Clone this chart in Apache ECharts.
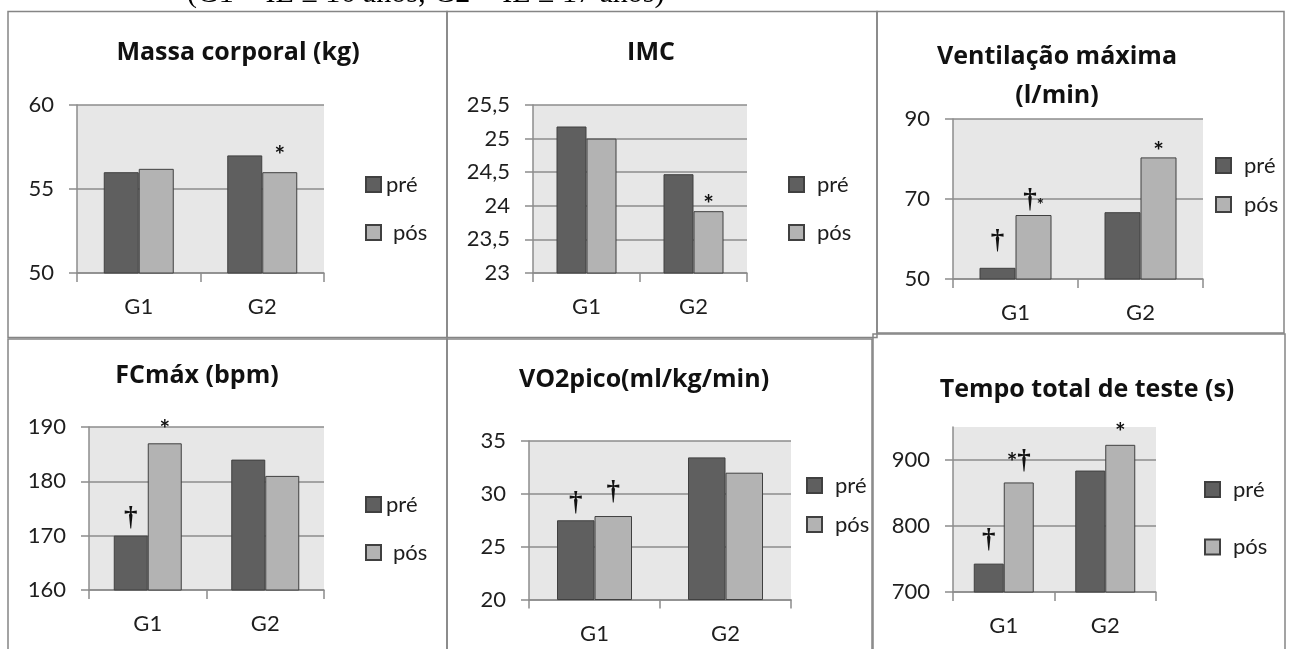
<!DOCTYPE html>
<html><head><meta charset="utf-8">
<script src="https://cdn.jsdelivr.net/npm/echarts@6/dist/echarts.min.js"></script>
<style>html,body{margin:0;padding:0;background:#fff}#c{width:1290px;height:649px}</style>
</head><body><div id="c"></div><script>
// ---------- data ----------
const categories = ['G1', 'G2'];
const seriesNames = ['pré', 'pós'];
const headerText = '(G1 = IE ≤ 16 anos; G2 = IE ≥ 17 anos)';

const massaTitle = ['Massa corporal (kg)'];
const massaPre = [56.0, 57.0];
const massaPos = [56.2, 56.0];
const massaAnnPre = ['', ''];
const massaAnnPos = ['', '*'];
const massaTicks = [50, 55, 60];

const imcTitle = ['IMC'];
const imcPre = [25.18, 24.47];
const imcPos = [25.0, 23.92];
const imcAnnPre = ['', ''];
const imcAnnPos = ['', '*'];
const imcTicks = [23, 23.5, 24, 24.5, 25, 25.5];

const ventTitle = ['Ventilação máxima', '(l/min)'];
const ventPre = [52.8, 66.7];
const ventPos = [66.0, 80.4];
const ventAnnPre = ['†', ''];
const ventAnnPos = ['†*', '*'];
const ventTicks = [50, 70, 90];

const fcTitle = ['FCmáx (bpm)'];
const fcPre = [170, 184];
const fcPos = [187, 181];
const fcAnnPre = ['†', ''];
const fcAnnPos = ['*', ''];
const fcTicks = [160, 170, 180, 190];

const vo2Title = ['VO2pico(ml/kg/min)'];
const vo2Pre = [27.5, 33.45];
const vo2Pos = [27.9, 32.0];
const vo2AnnPre = ['†', ''];
const vo2AnnPos = ['†', ''];
const vo2Ticks = [20, 25, 30, 35];

const tempoTitle = ['Tempo total de teste (s)'];
const tempoPre = [743, 884];
const tempoPos = [866, 923];
const tempoAnnPre = ['†', ''];
const tempoAnnPos = ['*†', '*'];
const tempoTicks = [700, 800, 900];
const tempoMax = 950;

// ---------- layout (positions / styles) ----------
// annD: label distance above each bar [[pré G1, pré G2], [pós G1, pós G2]]
const panels = [
  { title: massaTitle, pre: massaPre, pos: massaPos, annPre: massaAnnPre, annPos: massaAnnPos, ticks: massaTicks,
    grid: { left: 77, top: 105, width: 247, height: 168 }, barW: 35, titleXY: [238, 53], lineH: 39,
    leg: [[365, 184.5, 0], [365, 232.5, 7]], box: [8, 11.5, 439, 326], annD: [[0, 0], [0, 4]] },
  { title: imcTitle, pre: imcPre, pos: imcPos, annPre: imcAnnPre, annPos: imcAnnPos, ticks: imcTicks,
    grid: { left: 533, top: 105, width: 214, height: 168 }, barW: 30, titleXY: [651, 53], lineH: 39,
    leg: [[788, 184.5, 8], [788, 232.5, 8]], box: [447, 11.5, 430, 326], annD: [[0, 0], [0, -6]], comma: true },
  { title: ventTitle, pre: ventPre, pos: ventPos, annPre: ventAnnPre, annPos: ventAnnPos, ticks: ventTicks,
    grid: { left: 953, top: 119, width: 250, height: 160 }, barW: 36, titleXY: [1057, 57], lineH: 39,
    leg: [[1215, 165.5, 8], [1215, 204.5, 8]], box: [877, 11.5, 407, 321.5], annD: [[13, 0], [1, -7]] },
  { title: fcTitle, pre: fcPre, pos: fcPos, annPre: fcAnnPre, annPos: fcAnnPos, ticks: fcTicks,
    grid: { left: 89, top: 427, width: 235, height: 163 }, barW: 34, titleXY: [197, 376], lineH: 39,
    leg: [[365, 504.5, 0], [365, 552.5, 7]], box: [8, 339, 439, 320], annD: [[4, 0], [1, 0]] },
  { title: vo2Title, pre: vo2Pre, pos: vo2Pos, annPre: vo2AnnPre, annPos: vo2AnnPos, ticks: vo2Ticks,
    grid: { left: 529, top: 441, width: 262, height: 158.5 }, barW: 37.5, titleXY: [644, 380], lineH: 39,
    leg: [[806, 485.5, 8], [806, 524.5, 8]], box: [447, 339, 425, 320], annD: [[3, 0], [10, 0]] },
  { title: tempoTitle, pre: tempoPre, pos: tempoPos, annPre: tempoAnnPre, annPos: tempoAnnPos, ticks: tempoTicks, max: tempoMax,
    grid: { left: 953, top: 427, width: 203, height: 165 }, barW: 30, titleXY: [1087, 390], lineH: 39,
    leg: [[1204, 489.5, 8], [1204, 547, 8]], box: [873, 334, 412, 320], annD: [[10, 0], [7, -1]] }
];

const FONT = 'Lato';
const TITLE_FONT = 'Open Sans';
const AXIS_COLOR = '#8c8c8c';
const TEXT_COLOR = '#1e1e1e';
const PRE_COLOR = '#5f5f5f';
const POS_COLOR = '#b3b3b3';
const BORDER_COLOR = '#404040';

function annText(s) {
  return (s || '').split('').map((ch, j, all) => {
    if (ch === '†') return '{d|†}';
    return (j > 0 && all[j - 1] === '†') ? '{ss|*}' : '{s|*}';
  }).join('');
}
const annRich = {
  d: { fontFamily: 'Liberation Serif', fontSize: 27, fontWeight: 'bold', color: '#111', lineHeight: 28 },
  s: { fontFamily: FONT, fontSize: 25, fontWeight: 'bold', color: '#111', lineHeight: 12, verticalAlign: 'bottom' },
  ss: { fontFamily: FONT, fontSize: 17, fontWeight: 'bold', color: '#111', lineHeight: 20, verticalAlign: 'bottom' }
};

const grids = [], xAxes = [], yAxes = [], series = [], legends = [], graphics = [];

graphics.push({ type: 'text', x: 187, y: 9.5, silent: true,
  style: { text: headerText, fill: '#000', fontFamily: 'Liberation Serif', fontSize: 30, align: 'left', verticalAlign: 'bottom' } });

panels.forEach((pn, i) => {
  graphics.push({ type: 'rect', shape: { x: pn.box[0], y: pn.box[1], width: pn.box[2], height: pn.box[3] }, silent: true,
    style: { fill: null, stroke: '#858585', lineWidth: 1.5 } });
  pn.title.forEach((t, k) => {
    graphics.push({ type: 'text', x: pn.titleXY[0], y: pn.titleXY[1] + k * pn.lineH, silent: true,
      style: { text: t, fill: '#111', fontFamily: TITLE_FONT, fontSize: 25, fontWeight: 'bold', align: 'center', verticalAlign: 'middle' } });
  });
  grids.push(Object.assign({ show: true, backgroundColor: '#e7e7e7', borderWidth: 0 }, pn.grid));
  xAxes.push({ gridIndex: i, type: 'category', data: categories,
    axisLine: { show: true, lineStyle: { color: AXIS_COLOR, width: 1.5 } },
    axisTick: { show: true, length: 9, lineStyle: { color: AXIS_COLOR, width: 1.5 } },
    axisLabel: { margin: 23, fontSize: 22, fontFamily: FONT, color: TEXT_COLOR },
    splitLine: { show: false } });
  const t = pn.ticks;
  const yMax = pn.max != null ? pn.max : t[t.length - 1];
  yAxes.push({ gridIndex: i, type: 'value', min: t[0], max: yMax, interval: t[1] - t[0],
    axisLine: { show: true, lineStyle: { color: AXIS_COLOR, width: 1.5 } },
    axisTick: { show: true, length: 8, lineStyle: { color: AXIS_COLOR, width: 1.5 }, customValues: t },
    splitLine: { show: true, lineStyle: { color: AXIS_COLOR, width: 1.5 } },
    axisLabel: { margin: 23, fontSize: 22, fontFamily: FONT, color: TEXT_COLOR, customValues: t,
      formatter: v => pn.comma ? String(v).replace('.', ',') : String(v) } });
  [[pn.pre, pn.annPre, PRE_COLOR, 0], [pn.pos, pn.annPos, POS_COLOR, 1]].forEach(([vals, ann, col, k]) => {
    const items = vals.map((v, j) => ({ value: v, label: { distance: pn.annD[k][j], formatter: annText(ann[j]) } }));
    series.push({ type: 'bar', name: seriesNames[k], xAxisIndex: i, yAxisIndex: i, data: items,
      barWidth: pn.barW, barGap: '0%', animation: false,
      itemStyle: { color: col, borderColor: BORDER_COLOR, borderWidth: 1 },
      label: { show: true, position: 'top', rich: annRich } });
    const lg = pn.leg[k];
    legends.push({ data: [seriesNames[k]], orient: 'vertical', left: lg[0], top: lg[1] - 11, padding: 0,
      itemWidth: 15, itemHeight: 15, icon: 'rect', selectedMode: false,
      textStyle: { fontSize: 22, fontFamily: FONT, color: TEXT_COLOR, padding: [0, 0, 0, lg[2]] } });
  });
});

const chart = echarts.init(document.getElementById('c'), null, { renderer: 'canvas' });
chart.setOption({
  animation: false,
  backgroundColor: '#fff',
  grid: grids, xAxis: xAxes, yAxis: yAxes, series: series, legend: legends,
  graphic: graphics
});
</script></body></html>
